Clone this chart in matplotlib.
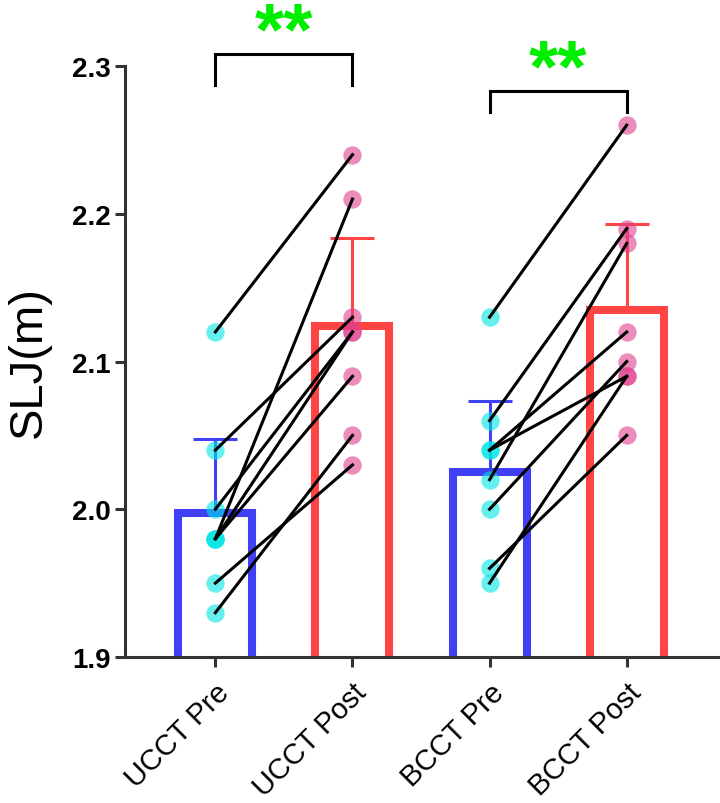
import numpy as np
import matplotlib.pyplot as plt

plt.rcParams['font.family'] = ['Liberation Sans', 'DejaVu Sans']

groups = ['UCCT Pre', 'UCCT Post', 'BCCT Pre', 'BCCT Post']

# paired subjects, index i is the same person pre/post
ucct_pre = [2.12, 2.04, 2.00, 1.98, 1.98, 1.98, 1.95, 1.93]
ucct_post = [2.24, 2.13, 2.12, 2.21, 2.12, 2.09, 2.03, 2.05]
bcct_pre = [2.13, 2.06, 2.04, 2.04, 2.02, 2.00, 1.96, 1.95]
bcct_post = [2.26, 2.19, 2.12, 2.09, 2.18, 2.10, 2.05, 2.09]

sd = [0.050, 0.060, 0.048, 0.058]
stars = ['**', '**']

data = [ucct_pre, ucct_post, bcct_pre, bcct_post]
means = [np.mean(d) for d in data]

bar_cols = ['#4040F5', '#FF4444', '#4040F5', '#FF4444']
dot_cols = ['#00E5E5', '#E0408F', '#00E5E5', '#E0408F']

fig = plt.figure(figsize=(7.2, 8.04), dpi=100)
ax = fig.add_axes([0.174, 0.1816, 0.824, 0.735])

x = np.arange(len(groups))
ax.bar(x, means, width=0.54, facecolor='none', edgecolor=bar_cols,
       linewidth=5.8, zorder=2)
for i in range(4):
    ax.errorbar(x[i], means[i], yerr=[[0], [sd[i]]], color=bar_cols[i],
                capsize=16, elinewidth=2.2, capthick=2.2, zorder=1.5)

for i in range(4):
    ax.scatter(np.full(len(data[i]), x[i]), data[i], s=175,
               color=dot_cols[i], alpha=0.6, linewidths=0, zorder=3)

for a, b, pre, post in [(0, 1, ucct_pre, ucct_post), (2, 3, bcct_pre, bcct_post)]:
    for p, q in zip(pre, post):
        ax.plot([a, b], [p, q], color='black', lw=2.2, zorder=4)

# significance brackets
for (a, b), (y0, y1), ys, s in zip([(0, 1), (2, 3)], [(2.287, 2.308), (2.269, 2.283)],
                                   [2.322, 2.297], stars):
    ax.plot([a, a, b, b], [y0, y1, y1, y0], color='black', lw=2.2,
            clip_on=False, solid_joinstyle='miter')
    ax.text((a + b) / 2, ys, s, color='#00EE00', fontsize=54,
            fontweight='bold', ha='center', va='center', clip_on=False)

ax.set_xlim(-0.657, 3.67)
ax.set_ylim(1.9, 2.3)
ax.set_yticks([1.9, 2.0, 2.1, 2.2, 2.3])
ax.set_yticklabels(['1.9', '2.0', '2.1', '2.2', '2.3'], fontweight='bold', fontsize=20)
ax.set_xticks(x)
ax.set_xticklabels(groups, rotation=45, ha='right', rotation_mode='anchor', fontsize=21)
ax.tick_params(axis='x', pad=8)
ax.set_ylabel('SLJ(m)', fontsize=34, labelpad=15)

for sp in ['top', 'right']:
    ax.spines[sp].set_visible(False)
for sp in ['left', 'bottom']:
    ax.spines[sp].set_linewidth(2.2)
    ax.spines[sp].set_color('#333333')
ax.tick_params(width=2.2, length=7, color='#333333')

plt.savefig('out.png', dpi=100)
